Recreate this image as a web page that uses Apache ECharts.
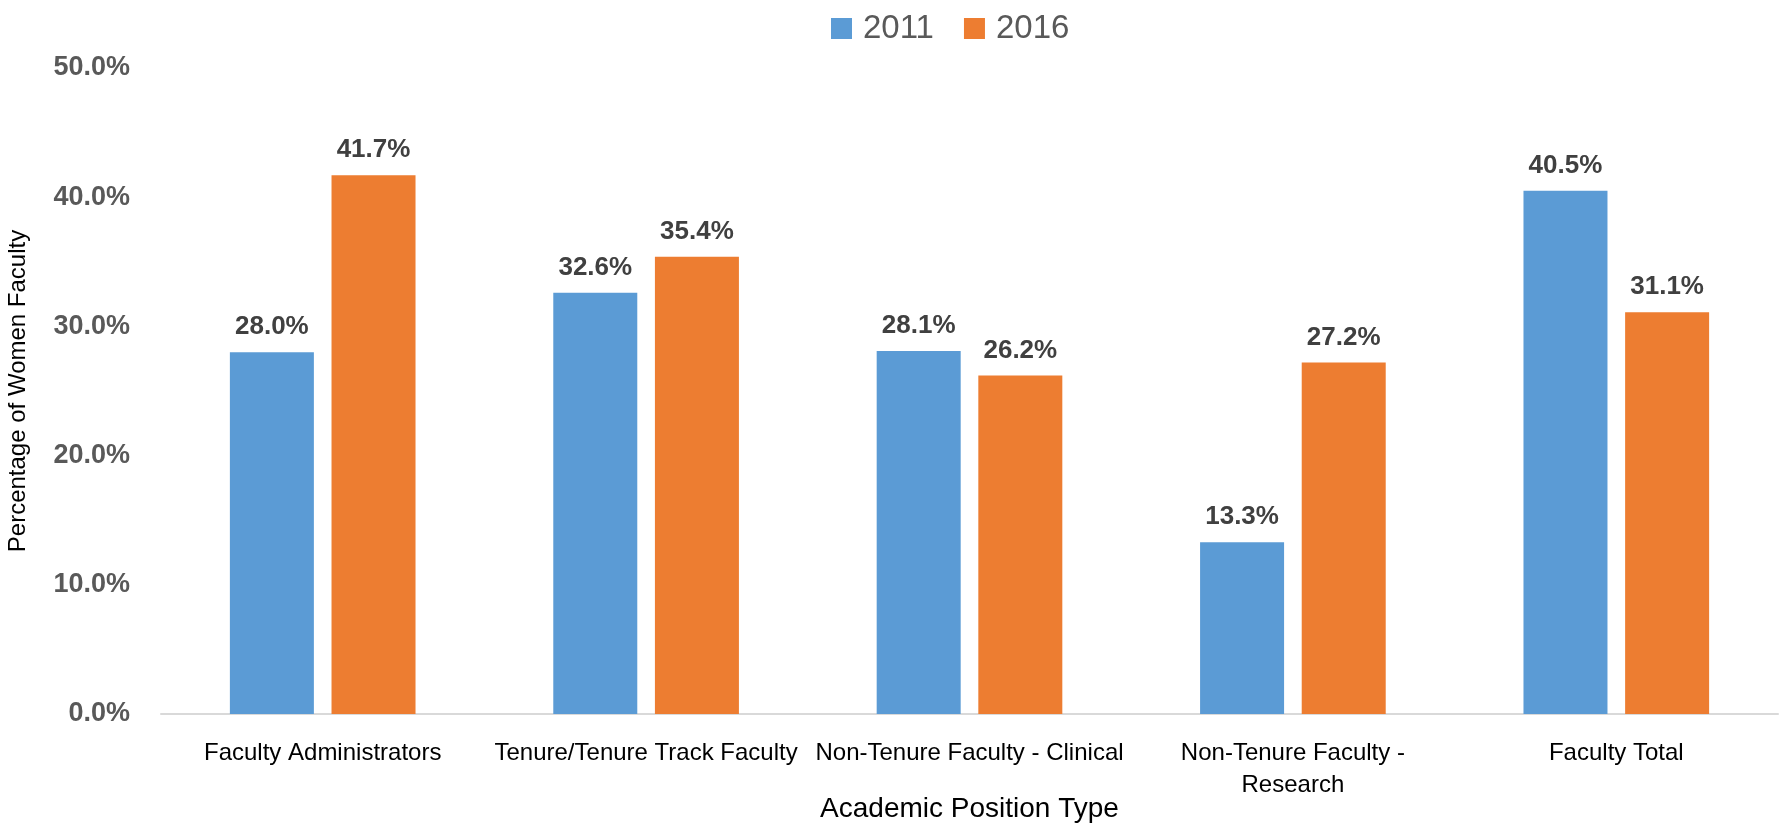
<!DOCTYPE html>
<html style="height: 100%">
<head>
<meta charset="utf-8">
<script src="https://cdn.jsdelivr.net/npm/echarts@6/dist/echarts.min.js"></script>
</head>
<body style="height: 100%; margin: 0; background: #fff">
<div id="container" style="width: 1781px; height: 823px"></div>
<script>
var categories = ['Faculty Administrators', 'Tenure/Tenure Track Faculty', 'Non-Tenure Faculty - Clinical', 'Non-Tenure Faculty -\nResearch', 'Faculty Total'];
var values2011 = [28.0, 32.6, 28.1, 13.3, 40.5];
var values2016 = [41.7, 35.4, 26.2, 27.2, 31.1];
var yTicks = [0, 10, 20, 30, 40, 50];

var chart = echarts.init(document.getElementById('container'));
var font = 'Liberation Sans, Arial, sans-serif';

function barLabel() {
    return {
        show: true,
        position: 'top',
        distance: 12,
        fontFamily: font,
        fontSize: 26,
        fontWeight: 'bold',
        color: '#404040',
        formatter: function (p) { return p.value.toFixed(1) + '%'; }
    };
}

var option = {
    animation: false,
    textStyle: { fontFamily: font },
    legend: {
        left: 826,
        top: 7,
        itemWidth: 21,
        itemHeight: 21,
        itemGap: 30,
        icon: 'rect',
        textStyle: { fontFamily: font, fontSize: 33, color: '#595959', padding: [0, 0, 0, 6] }
    },
    grid: { left: 161, right: 3, top: 68, bottom: 109, containLabel: false, outerBoundsMode: 'none' },
    xAxis: {
        type: 'category',
        data: categories,
        name: 'Academic Position Type',
        nameLocation: 'middle',
        nameGap: 81,
        nameMoveOverlap: false,
        nameTextStyle: { fontFamily: font, fontSize: 28, color: '#000' },
        axisLine: { lineStyle: { color: '#d9d9d9', width: 2 } },
        axisTick: { show: false },
        axisLabel: { interval: 0, margin: 23, fontFamily: font, fontSize: 24, color: '#000', lineHeight: 32 }
    },
    yAxis: {
        type: 'value',
        min: yTicks[0],
        max: yTicks[yTicks.length - 1],
        interval: 10,
        name: 'Percentage of Women Faculty',
        nameLocation: 'middle',
        nameGap: 131,
        nameMoveOverlap: false,
        nameTextStyle: { fontFamily: font, fontSize: 24, color: '#000' },
        splitLine: { show: false },
        axisLine: { show: false },
        axisTick: { show: false },
        axisLabel: {
            margin: 31,
            fontFamily: font,
            fontSize: 27,
            fontWeight: 'bold',
            color: '#595959',
            formatter: function (v) { return v.toFixed(1) + '%'; }
        }
    },
    series: [
        { name: '2011', type: 'bar', data: values2011, barWidth: 84, barGap: '21%', itemStyle: { color: '#5B9BD5' }, label: barLabel() },
        { name: '2016', type: 'bar', data: values2016, barWidth: 84, itemStyle: { color: '#ED7D31' }, label: barLabel() }
    ]
};
chart.setOption(option);
</script>
</body>
</html>
